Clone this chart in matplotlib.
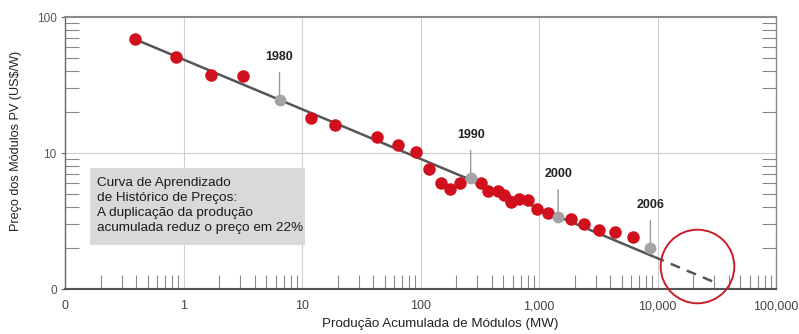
import matplotlib
matplotlib.use("Agg")
import matplotlib.pyplot as plt
from matplotlib.patches import Rectangle
from matplotlib.ticker import LogLocator, FixedLocator, NullFormatter

plt.rcParams['font.family'] = ['Liberation Sans', 'DejaVu Sans']

# ---- data ----
prod_mw = [0.39, 0.87, 1.72, 3.2, 12, 19, 43, 65, 92, 119, 148, 178, 217, 322,
           374, 455, 510, 575, 672, 811, 970, 1200, 1870, 2410, 3240, 4420, 6200]
price = [69, 51, 37.5, 36.8, 18.1, 16.1, 13.1, 11.5, 10.2, 7.6, 6.0, 5.43, 6.0, 6.0,
         5.26, 5.26, 4.91, 4.37, 4.59, 4.51, 3.87, 3.62, 3.27, 3.0, 2.72, 2.62, 2.41]

years = ['1980', '1990', '2000', '2006']
year_x = [6.46, 265, 1450, 8710]
year_y = [24.5, 6.55, 3.38, 2.0]

trend_x = [0.386, 9440]
trend_y = [68.9, 1.72]
proj_x = [9440, 32700]
proj_y = [1.72, 1.09]

circle_x = [21400]
circle_y = [1.48]

x_ticks = [0.1, 1, 10, 100, 1000, 10000, 100000]
x_ticklabels = ['0', '1', '10', '100', '1,000', '10,000', '100,000']
y_ticks = [1, 10, 100]
y_ticklabels = ['0', '10', '100']

box_text = ("Curva de Aprendizado\nde Histórico de Preços:\n"
            "A duplicação da produção\nacumulada reduz o preço em 22%")

# ---- figure ----
fig = plt.figure(figsize=(7.99, 3.34), dpi=100)
ax = fig.add_axes([65/799, 1-289/334, (776-65)/799, (289-17)/334])
ax.set_xscale('log')
ax.set_yscale('log')
ax.set_xlim(0.1, 100000)
ax.set_ylim(1, 100)

# grid
for gx in [1, 10, 100, 1000, 10000]:
    ax.axvline(gx, color='#cfcfcf', lw=0.8, zorder=0)
ax.axhline(10, color='#cfcfcf', lw=0.8, zorder=0)

# text box
ax.add_patch(Rectangle((0.035, 0.162), 0.3026, 0.283, transform=ax.transAxes,
                       facecolor='#d9d9d9', edgecolor='none', zorder=1))
ax.text(0.045, 0.41, box_text, transform=ax.transAxes, ha='left', va='top',
        fontsize=9.7, color='#1a1a1a', linespacing=1.31, zorder=2)

# lines
ax.plot(trend_x, trend_y, color='#555555', lw=1.8, zorder=3, solid_capstyle='butt')
ax.plot(proj_x, proj_y, color='#555555', lw=1.8, ls=(0, (4, 3)), zorder=3)

# red data points
ax.plot(prod_mw, price, 'o', color='#d0101c', markersize=9, mec='none', zorder=4)

# year markers with callouts
for lab, xx, yy in zip(years, year_x, year_y):
    ax.annotate(lab, xy=(xx, yy), xytext=(0, 31), textcoords='offset points',
                ha='center', va='center', fontsize=9, fontweight='bold', color='#222222',
                arrowprops=dict(arrowstyle='-', color='#999999', lw=1.0,
                                shrinkA=5, shrinkB=0), zorder=5)
ax.plot(year_x, year_y, 'o', color='#a3a3a3', markersize=8.5, mec='none', zorder=6)

# red circle highlight
ax.plot(circle_x, circle_y, 'o', markersize=53, mfc='none', mec='#c81e2a',
        mew=1.4, clip_on=False, zorder=7)

# ticks
ax.xaxis.set_major_locator(FixedLocator(x_ticks))
ax.set_xticklabels(x_ticklabels)
ax.yaxis.set_major_locator(FixedLocator(y_ticks))
ax.set_yticklabels(y_ticklabels)
ax.xaxis.set_minor_locator(LogLocator(base=10, subs=range(2, 10), numticks=20))
ax.yaxis.set_minor_locator(LogLocator(base=10, subs=range(2, 10), numticks=20))
ax.xaxis.set_minor_formatter(NullFormatter())
ax.yaxis.set_minor_formatter(NullFormatter())

ax.tick_params(axis='x', which='major', length=0, pad=8, labelsize=9, labelcolor='#444444')
ax.tick_params(axis='y', which='major', length=3, width=0.8, color='#666666',
               pad=3, labelsize=8.5, labelcolor='#555555')
ax.tick_params(axis='x', which='minor', direction='in', length=10, width=0.8,
               color='#888888', top=False, bottom=True)
ax.tick_params(axis='y', which='minor', direction='in', length=10, width=0.8,
               color='#888888', left=True, right=True)

# spines
ax.spines['top'].set_color('#8a8a8a')
ax.spines['top'].set_linewidth(1.5)
ax.spines['bottom'].set_color('#555555')
ax.spines['bottom'].set_linewidth(1.5)
ax.spines['left'].set_color('#666666')
ax.spines['left'].set_linewidth(1.0)
ax.spines['right'].set_color('#888888')
ax.spines['right'].set_linewidth(1.0)

ax.set_xlabel('Produção Acumulada de Módulos (MW)', fontsize=9.6, color='#222222',
              va='center', ha='center')
ax.xaxis.set_label_coords((440 - 65) / 711, (289 - 324) / 272)
ax.set_ylabel('Preço dos Módulos PV (US$/W)', fontsize=9.1, color='#222222',
              va='center', ha='center')
ax.yaxis.set_label_coords((16 - 65) / 711, (289 - 141) / 272)

fig.savefig('out.png', dpi=100)
